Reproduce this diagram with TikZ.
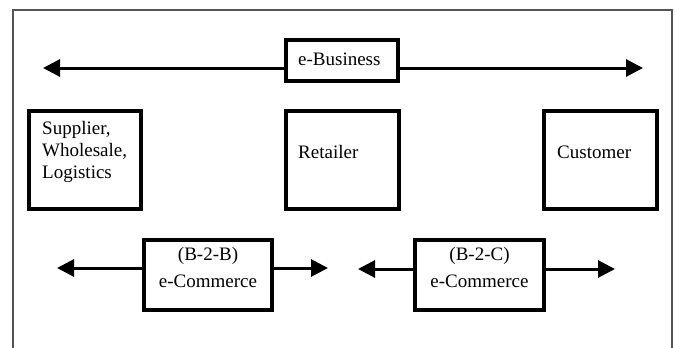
\documentclass[tikz,border=0pt]{standalone}
\usepackage{fontspec}
\setmainfont{Liberation Serif}
\usetikzlibrary{arrows.meta}
\begin{document}
\begin{tikzpicture}[x=1pt,y=-1pt,
  box/.style={draw=black, line width=4pt, inner sep=0pt},
  lbl/.style={inner sep=0pt, font=\fontsize{19}{22}\selectfont, text=black},
  arr/.style={line width=3pt, -{Triangle[length=17pt,width=17pt]}},
  frameline/.style={draw={rgb,255:red,85;green,85;blue,85}, line width=1.2pt}]
\useasboundingbox (0,0) rectangle (675,348);

% outer frame, open at the bottom
\draw[frameline] (13,348) -- (13,10) -- (672,10) -- (672,348);

% boxes
\node[box, minimum width=112pt, minimum height=41pt] (eb)  at (342,60.5) {};
\node[box, minimum width=112pt, minimum height=98pt] (sup) at (85,160) {};
\node[box, minimum width=113pt, minimum height=98pt] (ret) at (342.5,160) {};
\node[box, minimum width=113pt, minimum height=98pt] (cus) at (600.5,160) {};
\node[box, minimum width=128pt, minimum height=70pt] (b2b) at (208,275) {};
\node[box, minimum width=129pt, minimum height=70pt] (b2c) at (479.5,275) {};

% labels
\node[lbl, anchor=base west] (ebt) at (298,65) {e-Business};
\node[lbl, anchor=base west] (sup1) at (42,134) {Supplier,};
\node[lbl, anchor=base west] (sup2) at (42,156) {Wholesale,};
\node[lbl, anchor=base west] (sup3) at (42,178) {Logistics};
\node[lbl, anchor=base west] (rett) at (298,158) {Retailer};
\node[lbl, anchor=base west] (cust) at (557,158) {Customer};
\node[lbl, anchor=base] (b2b1) at (208,260) {(B-2-B)};
\node[lbl, anchor=base] (b2b2) at (208,287) {e-Commerce};
\node[lbl, anchor=base] (b2c1) at (479.5,260) {(B-2-C)};
\node[lbl, anchor=base] (b2c2) at (479.5,287) {e-Commerce};

% arrow ends
\coordinate (ebL) at (43,68);
\coordinate (ebR) at (643,68);
\coordinate (bbL) at (57,268);
\coordinate (bbR) at (328,268);
\coordinate (bcL) at (358,269);
\coordinate (bcR) at (615,269);

% arrows
\draw[arr] (eb.west |- ebL) -- (ebL);
\draw[arr] (eb.east |- ebR) -- (ebR);
\draw[arr] (b2b.west |- bbL) -- (bbL);
\draw[arr] (b2b.east |- bbR) -- (bbR);
\draw[arr] (b2c.west |- bcL) -- (bcL);
\draw[arr] (b2c.east |- bcR) -- (bcR);
\end{tikzpicture}
\end{document}
